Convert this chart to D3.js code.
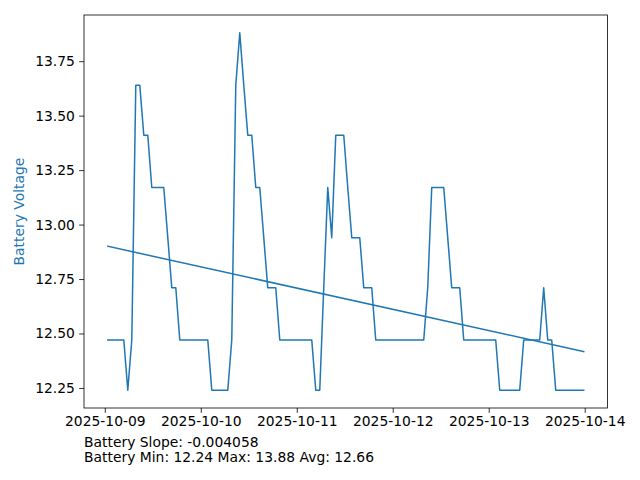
<!DOCTYPE html>
<html>
<head>
<meta charset="utf-8">
<script src="https://cdn.jsdelivr.net/npm/d3@7"></script>
<style>
  body { margin: 0; background: #fff; }
  svg { display: block; }
  text { font-family: "DejaVu Sans", sans-serif; }
</style>
</head>
<body>
<svg id="chart" width="640" height="480"></svg>
<script>
// ---- data (hourly readings, starting 2025-10-09 00:45 UTC) ----
const startTime = "2025-10-09T00:45:00Z";
const voltages = [
  12.47, 12.47, 12.47, 12.47, 12.47, 12.24, 12.47, 13.64, 13.64, 13.41,
  13.41, 13.17, 13.17, 13.17, 13.17, 12.94, 12.71, 12.71, 12.47, 12.47,
  12.47, 12.47, 12.47, 12.47, 12.47, 12.47, 12.24, 12.24, 12.24, 12.24,
  12.24, 12.47, 13.64, 13.88, 13.64, 13.41, 13.41, 13.17, 13.17, 12.94,
  12.71, 12.71, 12.71, 12.47, 12.47, 12.47, 12.47, 12.47, 12.47, 12.47,
  12.47, 12.47, 12.24, 12.24, 12.71, 13.17, 12.94, 13.41, 13.41, 13.41,
  13.17, 12.94, 12.94, 12.94, 12.71, 12.71, 12.71, 12.47, 12.47, 12.47,
  12.47, 12.47, 12.47, 12.47, 12.47, 12.47, 12.47, 12.47, 12.47, 12.47,
  12.71, 13.17, 13.17, 13.17, 13.17, 12.94, 12.71, 12.71, 12.71, 12.47,
  12.47, 12.47, 12.47, 12.47, 12.47, 12.47, 12.47, 12.47, 12.24, 12.24,
  12.24, 12.24, 12.24, 12.24, 12.47, 12.47, 12.47, 12.47, 12.47, 12.71,
  12.47, 12.47, 12.24, 12.24, 12.24, 12.24, 12.24, 12.24, 12.24, 12.24
];
const slopePerHour = -0.004058;
const yTicks = [12.25, 12.50, 12.75, 13.00, 13.25, 13.50, 13.75];
const xTickDates = ["2025-10-09", "2025-10-10", "2025-10-11", "2025-10-12", "2025-10-13", "2025-10-14"];
const yLabel = "Battery Voltage";
const infoLines = ["Battery Slope: -0.004058", "Battery Min: 12.24 Max: 13.88 Avg: 12.66"];

// ---- derived ----
const t0 = new Date(startTime);
const data = voltages.map((v, i) => ({ t: new Date(t0.getTime() + i * 3600e3), v }));
const avg = d3.mean(voltages);
const meanH = (voltages.length - 1) / 2;
const intercept = avg - slopePerHour * meanH;
const trend = [0, voltages.length - 1].map(h => ({
  t: new Date(t0.getTime() + h * 3600e3), v: intercept + slopePerHour * h
}));

// ---- layout ----
const L = 84, R = 607.5, T = 15, B = 408;
const fs = 13.89;
const blue = "#1f77b4";
const svg = d3.select("#chart");

const tExt = d3.extent(data, d => d.t);
const span = tExt[1] - tExt[0];
const x = d3.scaleUtc()
  .domain([new Date(+tExt[0] - 0.05 * span), new Date(+tExt[1] + 0.05 * span)])
  .range([L, R]);
const vExt = d3.extent(voltages);
const vs = vExt[1] - vExt[0];
const y = d3.scaleLinear()
  .domain([vExt[0] - 0.05 * vs, vExt[1] + 0.05 * vs])
  .range([B, T]);

const line = d3.line().x(d => x(d.t)).y(d => y(d.v));

svg.append("path").datum(data)
  .attr("d", line).attr("fill", "none").attr("stroke", blue)
  .attr("stroke-width", 1.5).attr("stroke-linejoin", "round").attr("stroke-linecap", "square");
svg.append("path").datum(trend)
  .attr("d", line).attr("fill", "none").attr("stroke", blue)
  .attr("stroke-width", 1.5).attr("stroke-linecap", "square");

// axes
const xAxis = d3.axisBottom(x)
  .tickValues(xTickDates.map(s => new Date(s + "T00:00:00Z")))
  .tickFormat(d3.utcFormat("%Y-%m-%d"))
  .tickSize(4.86).tickPadding(3.2);
const gx = svg.append("g").attr("transform", `translate(0,${B})`).call(xAxis);
const yAxis = d3.axisLeft(y)
  .tickValues(yTicks).tickFormat(d3.format(".2f"))
  .tickSize(4.86).tickPadding(4.2);
const gy = svg.append("g").attr("transform", `translate(${L},0)`).call(yAxis);
[gx, gy].forEach(g => {
  g.select(".domain").remove();
  g.selectAll(".tick line").attr("stroke", "#000").attr("stroke-width", 0.8);
  g.selectAll(".tick text").attr("fill", "#000")
    .style("font-family", '"DejaVu Sans", sans-serif').style("font-size", fs + "px");
});

// frame
svg.append("rect").attr("x", L).attr("y", T).attr("width", R - L).attr("height", B - T)
  .attr("fill", "none").attr("stroke", "#000").attr("stroke-width", 0.8);

// y label
svg.append("text")
  .attr("transform", `translate(24,${(T + B) / 2}) rotate(-90)`)
  .attr("text-anchor", "middle").attr("fill", blue)
  .style("font-size", fs + "px").text(yLabel);

// info text
svg.selectAll("text.info").data(infoLines).enter().append("text")
  .attr("class", "info").attr("x", L).attr("y", (d, i) => 446.5 + i * 15.5)
  .attr("fill", "#000").style("font-size", fs + "px").text(d => d);
</script>
</body>
</html>
